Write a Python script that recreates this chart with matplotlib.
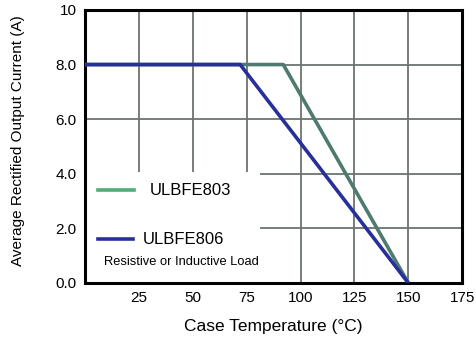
import matplotlib
matplotlib.use("Agg")
import matplotlib.pyplot as plt
from matplotlib.patches import Rectangle

# derating curves, case temperature (°C) vs current (A)
temp_803 = [0, 92, 150]
amps_803 = [8.0, 8.0, 0.0]
temp_806 = [0, 72, 150]
amps_806 = [8.0, 8.0, 0.0]

x_ticks = [25, 50, 75, 100, 125, 150, 175]
y_ticks = [0, 2, 4, 6, 8, 10]
y_labels = ["0.0", "2.0", "4.0", "6.0", "8.0", "10"]

plt.rcParams["font.family"] = ["Liberation Sans", "DejaVu Sans"]

fig = plt.figure(figsize=(4.77, 3.43), dpi=100)
ax = fig.add_axes([0.178, 0.175, 0.791, 0.796])

ax.set_xlim(0, 175)
ax.set_ylim(0, 10)
ax.set_xticks(x_ticks)
ax.set_yticks(y_ticks)
ax.set_yticklabels(y_labels)
ax.tick_params(length=0, labelsize=11, pad=6)
ax.grid(True, color="#6b7470", linewidth=1.3)
ax.set_axisbelow(True)
for s in ax.spines.values():
    s.set_linewidth(2.2)
    s.set_color("black")

# white box behind the legend text
ax.add_patch(Rectangle((0, 0), 81, 4.05, facecolor="white", edgecolor="none", zorder=1.5))

ax.plot(temp_803, amps_803, color="#4e7a70", linewidth=2.6, zorder=3, solid_capstyle="butt")
ax.plot(temp_806, amps_806, color="#27309a", linewidth=2.6, zorder=4, solid_capstyle="butt")

# hand-made legend
ax.plot([6, 23], [3.4, 3.4], color="#4fae76", linewidth=2.6, zorder=5)
ax.text(30, 3.4, "ULBFE803", fontsize=12, va="center", ha="left", zorder=5)
ax.plot([6, 22.5], [1.6, 1.6], color="#27309a", linewidth=2.6, zorder=5)
ax.text(27, 1.6, "ULBFE806", fontsize=12, va="center", ha="left", zorder=5)
ax.text(9, 0.75, "Resistive or Inductive Load", fontsize=9.3, va="center", ha="left", zorder=5)

ax.set_xlabel("Case Temperature (°C)", fontsize=12.5, labelpad=10)
ax.set_ylabel("Average Rectified Output Current (A)", fontsize=11)
ax.yaxis.set_label_coords(-0.16, 0.52)

fig.savefig("out.png", dpi=100)
